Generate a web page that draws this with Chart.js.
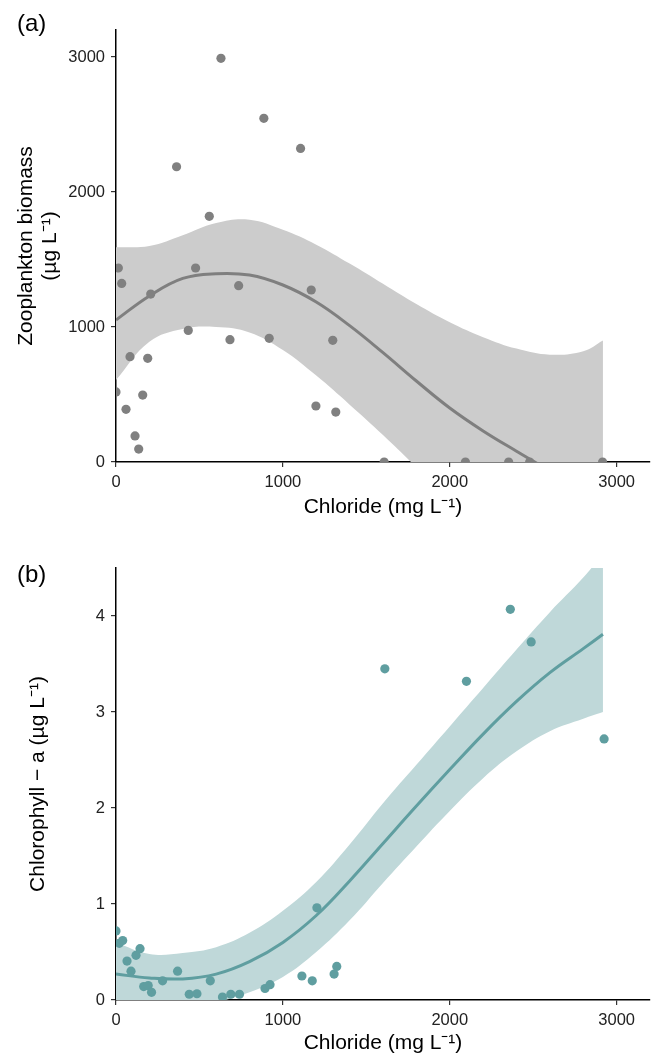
<!DOCTYPE html>
<html><head><meta charset="utf-8">
<script src="https://cdn.jsdelivr.net/npm/chart.js@4"></script>
<style>
html,body{margin:0;padding:0;background:#fff;}
#wrapA{position:absolute;left:0;top:0;width:655px;height:538px;}
#wrapB{position:absolute;left:0;top:538px;width:655px;height:518px;}
</style></head><body>
<div id="wrapA"><canvas id="chartA" width="655" height="538"></canvas></div>
<div id="wrapB"><canvas id="chartB" width="655" height="518"></canvas></div>
<script>
// ---- Panel (a): zooplankton biomass vs chloride ----
const chlorideA = [0,14,34,60,84,114,136,160,190,208,363,433,477,559,629,683,735,886,918,1106,1170,1198,1299,1317,1607,2094,2353,2479,2916];
const zoopA     = [519,1437,1323,390,780,193,96,496,768,1244,2187,975,1437,1820,2990,906,1306,2546,916,2323,1274,415,901,370,0,0,0,0,0];
// ---- Panel (b): chlorophyll-a vs chloride ----
const chlorideB = [0,20,40,66,90,120,144,166,193,213,279,369,439,485,565,638,688,740,893,923,1114,1176,1204,1307,1323,1611,2100,2363,2488,2925];
const chlaB     = [0.72,0.59,0.62,0.405,0.30,0.465,0.535,0.14,0.15,0.08,0.20,0.30,0.06,0.065,0.20,0.03,0.06,0.06,0.12,0.16,0.25,0.20,0.96,0.27,0.35,3.45,3.32,4.07,3.73,2.72];
// ---- Smooth fits and confidence bands ----
const fitX   = [0,200,400,600,800,1000,1200,1400,1600,1800,2000,2200,2400,2600,2800,2918];
const fitA   = [1052,1230,1360,1395,1385,1311,1185,1010,810,600,400,230,80,-65,-200,-280];
const upperA = [1590,1600,1680,1770,1795,1720,1610,1470,1320,1170,1035,925,840,795,820,900];
const lowerA = [607,890,985,1000,960,830,640,425,200,-40,-300,-560,-820,-1080,-1340,-1500];
const fitB   = [0.27,0.23,0.22,0.27,0.40,0.60,0.88,1.24,1.63,2.02,2.40,2.77,3.11,3.41,3.66,3.81];
const upperB = [0.60,0.48,0.49,0.55,0.70,0.93,1.23,1.62,2.05,2.45,2.85,3.25,3.65,4.04,4.40,4.65];
const lowerB = [-0.06,-0.05,-0.06,-0.02,0.08,0.24,0.50,0.83,1.22,1.60,1.97,2.31,2.59,2.80,2.93,3.00];
// ---- Tick labels ----
const xTicks  = [0,1000,2000,3000];
const yTicksA = [0,1000,2000,3000];
const yTicksB = [0,1,2,3,4];

const FAMILY = '"Liberation Sans", Arial, Helvetica, sans-serif';
const pts = (xs, ys) => xs.map((x, i) => ({x: x, y: ys[i]}));

function buildChart(id, o) {
  const tickFont = {family: FAMILY, size: 16.5};
  return new Chart(document.getElementById(id), {
    type: 'scatter',
    data: {
      datasets: [
        {type: 'scatter', data: pts(o.px, o.py), backgroundColor: o.pointColor, pointRadius: 4.6,
         pointBorderWidth: 0, borderWidth: 0, clip: 0, order: 0},
        {type: 'line', data: pts(fitX, o.fit), borderColor: o.lineColor, borderWidth: 3, pointRadius: 0,
         fill: false, tension: 0.4, clip: 0, order: 1},
        {type: 'line', data: pts(fitX, o.upper), borderWidth: 0, borderColor: 'rgba(0,0,0,0)', pointRadius: 0,
         backgroundColor: o.bandColor, fill: '+1', tension: 0.4, clip: 0, order: 2},
        {type: 'line', data: pts(fitX, o.lower), borderWidth: 0, borderColor: 'rgba(0,0,0,0)', pointRadius: 0,
         fill: false, tension: 0.4, clip: 0, order: 3}
      ]
    },
    options: {
      responsive: false, animation: false, devicePixelRatio: 1, events: [],
      layout: {padding: {left: 17, right: 5, top: 0, bottom: 0}},
      elements: {line: {capBezierPoints: false}},
      plugins: {
        legend: {display: false}, tooltip: {enabled: false},
        title: {display: true, text: o.panel, align: 'start', color: '#000',
                font: {family: FAMILY, size: 24, weight: 'normal', lineHeight: '12px'},
                padding: o.panelPad}
      },
      scales: {
        x: {
          type: 'linear', position: 'bottom', min: 0, max: 3200,
          afterBuildTicks: s => { s.ticks = xTicks.map(v => ({value: v})); },
          afterFit: s => { s.height = o.xHeight; },
          ticks: {font: tickFont, color: '#222', padding: 6, maxRotation: 0, autoSkip: false,
                  callback: v => String(v)},
          grid: {display: true, drawOnChartArea: false, drawTicks: true, tickLength: 5, color: '#333', lineWidth: 1.2},
          border: {display: true, color: '#000', width: 1.5},
          title: {display: true, text: 'Chloride (mg L⁻¹)', color: '#000',
                  font: {family: FAMILY, size: 21}, padding: {top: 0, bottom: o.xTitlePad}}
        },
        y: {
          type: 'linear', position: 'left', min: 0, max: o.yMax,
          afterBuildTicks: s => { s.ticks = o.yTicks.map(v => ({value: v})); },
          afterFit: s => { s.width = 99; },
          ticks: {font: tickFont, color: '#222', padding: 6, autoSkip: false,
                  callback: v => String(v)},
          grid: {display: true, drawOnChartArea: false, drawTicks: true, tickLength: 5, color: '#333', lineWidth: 1.2},
          border: {display: true, color: '#000', width: 1.5},
          title: {display: true, text: o.yTitle, color: '#000',
                  font: {family: FAMILY, size: 21, lineHeight: '24px'}, padding: {top: o.yTitlePad, bottom: 0}}
        }
      }
    }
  });
}

buildChart('chartA', {
  px: chlorideA, py: zoopA, fit: fitA, upper: upperA, lower: lowerA,
  pointColor: '#808080', lineColor: '#7f7f7f', bandColor: '#cccccc',
  panel: '(a)', panelPad: {top: 18, bottom: 0},
  yMax: 3200, yTicks: yTicksA, xHeight: 76, xTitlePad: 18.5,
  yTitle: ['Zooplankton biomass', '(µg L⁻¹)'], yTitlePad: -3
});
buildChart('chartB', {
  px: chlorideB, py: chlaB, fit: fitB, upper: upperB, lower: lowerB,
  pointColor: '#5f9ea0', lineColor: '#5f9ea0', bandColor: '#bfd8d9',
  panel: '(b)', panelPad: {top: 31, bottom: -13},
  yMax: 4.5, yTicks: yTicksB, xHeight: 56, xTitlePad: 0,
  yTitle: 'Chlorophyll − a (µg L⁻¹)', yTitlePad: 9
});
</script>
</body></html>
